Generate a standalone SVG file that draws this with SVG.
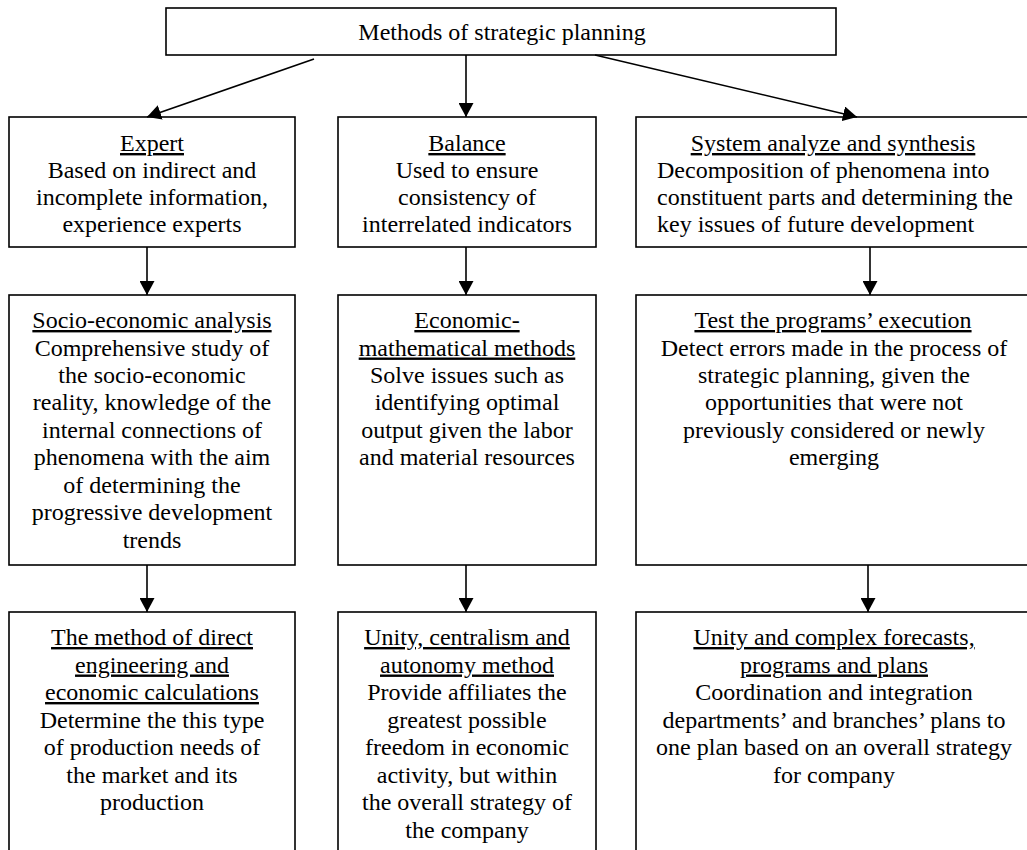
<svg xmlns="http://www.w3.org/2000/svg" width="1027" height="850" viewBox="0 0 1027 850">
<style>
.box{fill:#fff;stroke:#000;stroke-width:1.6}
.t{font-family:"Liberation Serif","Times New Roman",serif;font-size:24px;fill:#000}
.c{text-anchor:middle}
.u{text-decoration:underline}
.con line{stroke:#000;stroke-width:1.6;marker-end:url(#ah)}
</style>
<defs>
<marker id="ah" markerUnits="userSpaceOnUse" markerWidth="15" markerHeight="15" refX="14" refY="7.5" orient="auto">
<path d="M0,0 L14,7.5 L0,15 z" fill="#000"/>
</marker>
</defs>
<rect width="1027" height="850" fill="#fff"/>
<g id="root">
<rect class="box" x="166" y="8" width="670" height="47"/>
<text class="t c" x="502" y="40">Methods of strategic planning</text>
</g>
<g id="expert">
<rect class="box" x="9" y="117" width="286" height="130"/>
<text class="t c"><tspan class="u" x="152" y="151">Expert</tspan><tspan x="152" y="178">Based on indirect and</tspan><tspan x="152" y="205">incomplete information,</tspan><tspan x="152" y="232">experience experts</tspan></text>
</g>
<g id="balance">
<rect class="box" x="338" y="117" width="258" height="130"/>
<text class="t c"><tspan class="u" x="467" y="151">Balance</tspan><tspan x="467" y="178">Used to ensure</tspan><tspan x="467" y="205">consistency of</tspan><tspan x="467" y="232">interrelated indicators</tspan></text>
</g>
<g id="system">
<rect class="box" x="636" y="117" width="400" height="130"/>
<text class="t"><tspan class="u c" x="833" y="151">System analyze and synthesis</tspan><tspan x="657" y="178">Decomposition of phenomena into</tspan><tspan x="657" y="205">constituent parts and determining the</tspan><tspan x="657" y="232">key issues of future development</tspan></text>
</g>
<g id="socio">
<rect class="box" x="9" y="295" width="286" height="270"/>
<text class="t c"><tspan class="u" x="152" y="328">Socio-economic analysis</tspan><tspan x="152" y="355.5">Comprehensive study of</tspan><tspan x="152" y="383">the socio-economic</tspan><tspan x="152" y="410">reality, knowledge of the</tspan><tspan x="152" y="437.5">internal connections of</tspan><tspan x="152" y="465">phenomena with the aim</tspan><tspan x="152" y="492.5">of determining the</tspan><tspan x="152" y="520">progressive development</tspan><tspan x="152" y="547.5">trends</tspan></text>
</g>
<g id="econmath">
<rect class="box" x="338" y="295" width="258" height="270"/>
<text class="t c"><tspan class="u" x="467" y="328">Economic-</tspan><tspan class="u" x="467" y="355.5">mathematical methods</tspan><tspan x="467" y="383">Solve issues such as</tspan><tspan x="467" y="410">identifying optimal</tspan><tspan x="467" y="437.5">output given the labor</tspan><tspan x="467" y="465">and material resources</tspan></text>
</g>
<g id="test">
<rect class="box" x="636" y="295" width="400" height="270"/>
<text class="t c"><tspan class="u" x="833" y="328">Test the programs’ execution</tspan><tspan x="834" y="355.5">Detect errors made in the process of</tspan><tspan x="834" y="383">strategic planning, given the</tspan><tspan x="834" y="410">opportunities that were not</tspan><tspan x="834" y="437.5">previously considered or newly</tspan><tspan x="834" y="465">emerging</tspan></text>
</g>
<g id="direct">
<rect class="box" x="9" y="612" width="286" height="260"/>
<text class="t c"><tspan class="u" x="152" y="645">The method of direct</tspan><tspan class="u" x="152" y="672.5">engineering and</tspan><tspan class="u" x="152" y="700">economic calculations</tspan><tspan x="152" y="727.5">Determine the this type</tspan><tspan x="152" y="755">of production needs of</tspan><tspan x="152" y="782.5">the market and its</tspan><tspan x="152" y="810">production</tspan></text>
</g>
<g id="unity">
<rect class="box" x="338" y="612" width="258" height="260"/>
<text class="t c"><tspan class="u" x="467" y="645">Unity, centralism and</tspan><tspan class="u" x="467" y="672.5">autonomy method</tspan><tspan x="467" y="700">Provide affiliates the</tspan><tspan x="467" y="727.5">greatest possible</tspan><tspan x="467" y="755">freedom in economic</tspan><tspan x="467" y="782.5">activity, but within</tspan><tspan x="467" y="810">the overall strategy of</tspan><tspan x="467" y="837.5">the company</tspan></text>
</g>
<g id="complex">
<rect class="box" x="636" y="612" width="400" height="260"/>
<text class="t c"><tspan class="u" x="834" y="645">Unity and complex forecasts,</tspan><tspan class="u" x="834" y="672.5">programs and plans</tspan><tspan x="834" y="700">Coordination and integration</tspan><tspan x="834" y="727.5">departments’ and branches’ plans to</tspan><tspan x="834" y="755">one plan based on an overall strategy</tspan><tspan x="834" y="782.5">for company</tspan></text>
</g>
<g class="con" id="connectors">
<line x1="314" y1="59" x2="147" y2="117"/>
<line x1="466" y1="55" x2="466" y2="117"/>
<line x1="595" y1="55" x2="857" y2="117"/>
<line x1="147" y1="247" x2="147" y2="295"/>
<line x1="466" y1="247" x2="466" y2="295"/>
<line x1="870" y1="247" x2="870" y2="295"/>
<line x1="147" y1="565" x2="147" y2="612"/>
<line x1="466" y1="565" x2="466" y2="612"/>
<line x1="868" y1="565" x2="868" y2="612"/>
</g>
</svg>
